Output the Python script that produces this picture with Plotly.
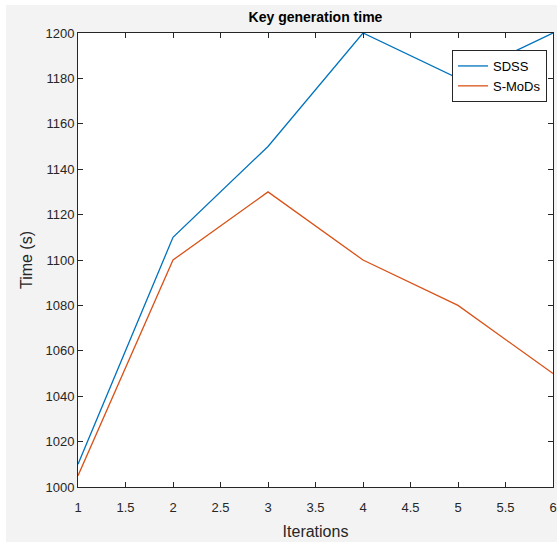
import plotly.graph_objects as go

iterations = [1, 2, 3, 4, 5, 6]
sdss = [1010, 1110, 1150, 1200, 1180, 1200]
smods = [1005, 1100, 1130, 1100, 1080, 1050]
x_ticks = [1, 1.5, 2, 2.5, 3, 3.5, 4, 4.5, 5, 5.5, 6]
y_ticks = list(range(1000, 1201, 20))

W, H = 557, 542
L, R, T, B = 78, 4, 33, 55
pw, ph = W - L - R, H - T - B

FONT = "Liberation Sans, Arial, sans-serif"

fig = go.Figure()
fig.add_trace(go.Scatter(x=iterations, y=sdss, mode="lines", name="SDSS",
                         line=dict(color="#0072BD", width=1.3)))
fig.add_trace(go.Scatter(x=iterations, y=smods, mode="lines", name="S-MoDs",
                         line=dict(color="#D95319", width=1.3)))

# grey figure background, leaving thin white strips at top and left
fig.add_shape(type="rect", xref="paper", yref="paper",
              x0=(6 - L) / pw, x1=(W - L) / pw + 0.02,
              y0=-B / ph - 0.02, y1=(H - 5 - B) / ph,
              fillcolor="#f3f3f3", line=dict(width=0), layer="below")
fig.add_shape(type="rect", xref="paper", yref="paper", x0=0, x1=1, y0=0, y1=1,
              fillcolor="white", line=dict(width=0), layer="below")

axis_common = dict(showgrid=False, zeroline=False, showline=True, linecolor="#262626",
                   linewidth=1, mirror="ticks", ticks="inside", ticklen=5,
                   tickcolor="#262626", automargin=False,
                   tickfont=dict(family=FONT, size=13, color="#262626"))

fig.update_xaxes(range=[1, 6], tickvals=x_ticks, ticktext=[("%g" % v) for v in x_ticks],
                 ticklabelstandoff=8,
                 title=dict(text="Iterations", font=dict(family=FONT, size=16, color="#262626"), standoff=12),
                 **axis_common)
fig.update_yaxes(range=[1000, 1200], tickvals=y_ticks,
                 title=dict(text="Time (s)", font=dict(family=FONT, size=16, color="#262626"), standoff=8),
                 **axis_common)

fig.update_layout(
    width=W, height=H,
    margin=dict(l=L, r=R, t=T, b=B, autoexpand=False),
    paper_bgcolor="white", plot_bgcolor="white",
    title=dict(text="<b>Key generation time</b>", x=(L + pw / 2) / W, xanchor="center",
               y=1 - 17 / H, yanchor="middle",
               font=dict(family=FONT, size=14, color="black")),
    legend=dict(x=(547 - L) / pw, y=1 - (50 - T) / ph, xanchor="right", yanchor="top",
                bgcolor="white", bordercolor="#262626", borderwidth=1,
                font=dict(family=FONT, size=13, color="black"),
                tracegroupgap=0, itemwidth=30, entrywidth=98),
    showlegend=True,
)

fig.write_html("out.html", config={"displayModeBar": False},
               post_script="document.body.style.margin='0';document.body.style.overflow='hidden';")
